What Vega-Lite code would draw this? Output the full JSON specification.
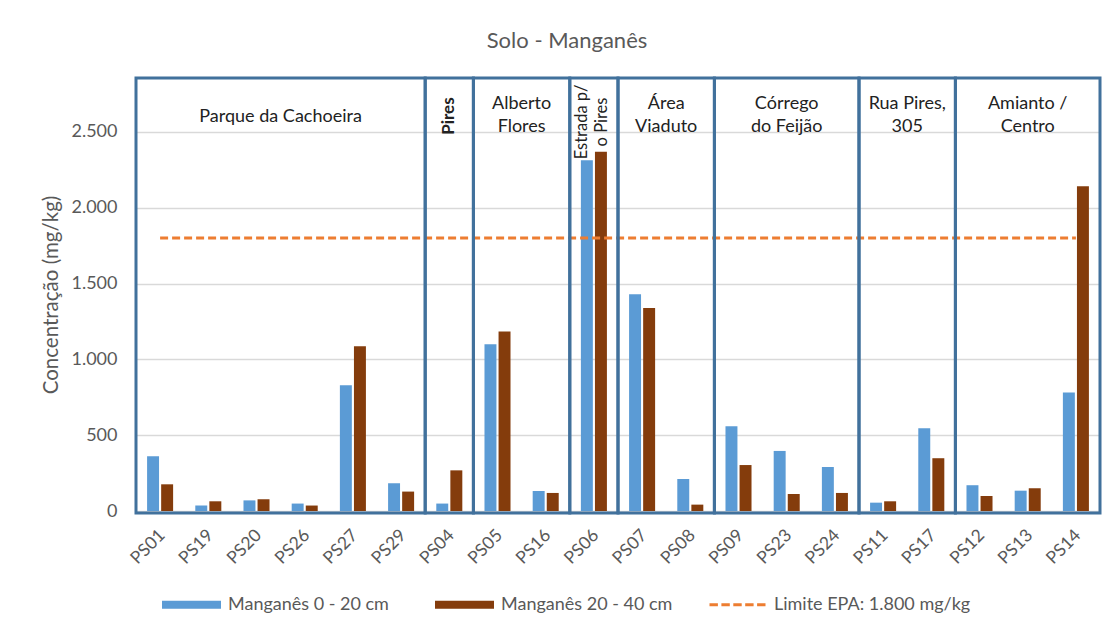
{
  "$schema": "https://vega.github.io/schema/vega-lite/v6.json",
  "width": 964,
  "height": 433,
  "autosize": {"type": "none"},
  "padding": {"left": 136, "top": 78, "right": 9, "bottom": 116},
  "background": "white",
  "config": {
    "font": "Lato",
    "view": {"stroke": null}
  },
  "title": {
    "text": "Solo - Manganês",
    "fontSize": 22,
    "fontWeight": "normal",
    "color": "#595959",
    "offset": 24,
    "dx": -51,
    "anchor": "middle"
  },
  "datasets": {
    "bars": [
      {"amostra": "PS01", "profundidade": "Manganês 0 - 20 cm", "valor": 361},
      {"amostra": "PS01", "profundidade": "Manganês 20 - 40 cm", "valor": 176},
      {"amostra": "PS19", "profundidade": "Manganês 0 - 20 cm", "valor": 36},
      {"amostra": "PS19", "profundidade": "Manganês 20 - 40 cm", "valor": 64},
      {"amostra": "PS20", "profundidade": "Manganês 0 - 20 cm", "valor": 70},
      {"amostra": "PS20", "profundidade": "Manganês 20 - 40 cm", "valor": 77},
      {"amostra": "PS26", "profundidade": "Manganês 0 - 20 cm", "valor": 49},
      {"amostra": "PS26", "profundidade": "Manganês 20 - 40 cm", "valor": 36},
      {"amostra": "PS27", "profundidade": "Manganês 0 - 20 cm", "valor": 829},
      {"amostra": "PS27", "profundidade": "Manganês 20 - 40 cm", "valor": 1086},
      {"amostra": "PS29", "profundidade": "Manganês 0 - 20 cm", "valor": 183},
      {"amostra": "PS29", "profundidade": "Manganês 20 - 40 cm", "valor": 128},
      {"amostra": "PS04", "profundidade": "Manganês 0 - 20 cm", "valor": 49},
      {"amostra": "PS04", "profundidade": "Manganês 20 - 40 cm", "valor": 268},
      {"amostra": "PS05", "profundidade": "Manganês 0 - 20 cm", "valor": 1100},
      {"amostra": "PS05", "profundidade": "Manganês 20 - 40 cm", "valor": 1183},
      {"amostra": "PS16", "profundidade": "Manganês 0 - 20 cm", "valor": 132},
      {"amostra": "PS16", "profundidade": "Manganês 20 - 40 cm", "valor": 119},
      {"amostra": "PS06", "profundidade": "Manganês 0 - 20 cm", "valor": 2313},
      {"amostra": "PS06", "profundidade": "Manganês 20 - 40 cm", "valor": 2368},
      {"amostra": "PS07", "profundidade": "Manganês 0 - 20 cm", "valor": 1429},
      {"amostra": "PS07", "profundidade": "Manganês 20 - 40 cm", "valor": 1339},
      {"amostra": "PS08", "profundidade": "Manganês 0 - 20 cm", "valor": 211},
      {"amostra": "PS08", "profundidade": "Manganês 20 - 40 cm", "valor": 42},
      {"amostra": "PS09", "profundidade": "Manganês 0 - 20 cm", "valor": 559},
      {"amostra": "PS09", "profundidade": "Manganês 20 - 40 cm", "valor": 303},
      {"amostra": "PS23", "profundidade": "Manganês 0 - 20 cm", "valor": 396},
      {"amostra": "PS23", "profundidade": "Manganês 20 - 40 cm", "valor": 112},
      {"amostra": "PS24", "profundidade": "Manganês 0 - 20 cm", "valor": 290},
      {"amostra": "PS24", "profundidade": "Manganês 20 - 40 cm", "valor": 119},
      {"amostra": "PS11", "profundidade": "Manganês 0 - 20 cm", "valor": 55},
      {"amostra": "PS11", "profundidade": "Manganês 20 - 40 cm", "valor": 64},
      {"amostra": "PS17", "profundidade": "Manganês 0 - 20 cm", "valor": 545},
      {"amostra": "PS17", "profundidade": "Manganês 20 - 40 cm", "valor": 348},
      {"amostra": "PS12", "profundidade": "Manganês 0 - 20 cm", "valor": 170},
      {"amostra": "PS12", "profundidade": "Manganês 20 - 40 cm", "valor": 99},
      {"amostra": "PS13", "profundidade": "Manganês 0 - 20 cm", "valor": 134},
      {"amostra": "PS13", "profundidade": "Manganês 20 - 40 cm", "valor": 150},
      {"amostra": "PS14", "profundidade": "Manganês 0 - 20 cm", "valor": 781},
      {"amostra": "PS14", "profundidade": "Manganês 20 - 40 cm", "valor": 2142}
    ],
    "limite": [
      {"amostra": "PS01", "valor": 1800}, {"amostra": "PS19", "valor": 1800},
      {"amostra": "PS20", "valor": 1800}, {"amostra": "PS26", "valor": 1800},
      {"amostra": "PS27", "valor": 1800}, {"amostra": "PS29", "valor": 1800},
      {"amostra": "PS04", "valor": 1800}, {"amostra": "PS05", "valor": 1800},
      {"amostra": "PS16", "valor": 1800}, {"amostra": "PS06", "valor": 1800},
      {"amostra": "PS07", "valor": 1800}, {"amostra": "PS08", "valor": 1800},
      {"amostra": "PS09", "valor": 1800}, {"amostra": "PS23", "valor": 1800},
      {"amostra": "PS24", "valor": 1800}, {"amostra": "PS11", "valor": 1800},
      {"amostra": "PS17", "valor": 1800}, {"amostra": "PS12", "valor": 1800},
      {"amostra": "PS13", "valor": 1800}, {"amostra": "PS14", "valor": 1800}
    ],
    "grupos": [
      {"grupo": "Parque da Cachoeira", "rotulo": "Parque da Cachoeira", "inicio": 0, "fim": 6, "centro": 3},
      {"grupo": "Pires", "rotulo": "Pires", "inicio": 6, "fim": 7, "centro": 6.5},
      {"grupo": "Alberto Flores", "rotulo": "Alberto\nFlores", "inicio": 7, "fim": 9, "centro": 8},
      {"grupo": "Estrada p/ o Pires", "rotulo": "Estrada p/\no Pires", "inicio": 9, "fim": 10, "centro": 9.5},
      {"grupo": "Área Viaduto", "rotulo": "Área\nViaduto", "inicio": 10, "fim": 12, "centro": 11},
      {"grupo": "Córrego do Feijão", "rotulo": "Córrego\ndo Feijão", "inicio": 12, "fim": 15, "centro": 13.5},
      {"grupo": "Rua Pires, 305", "rotulo": "Rua Pires,\n305", "inicio": 15, "fim": 17, "centro": 16},
      {"grupo": "Amianto / Centro", "rotulo": "Amianto /\nCentro", "inicio": 17, "fim": 20, "centro": 18.5}
    ]
  },
  "layer": [
    {
      "layer": [
        {
          "data": {"name": "bars"},
          "mark": {"type": "bar"},
          "encoding": {
            "x": {
              "field": "amostra",
              "type": "nominal",
              "scale": {
                "domain": ["PS01","PS19","PS20","PS26","PS27","PS29","PS04","PS05","PS16","PS06","PS07","PS08","PS09","PS23","PS24","PS11","PS17","PS12","PS13","PS14"],
                "paddingInner": 0.46,
                "paddingOuter": 0.23
              },
              "axis": {
                "title": null,
                "labelAngle": -45,
                "ticks": false,
                "domain": false,
                "labelFontSize": 17.5,
                "labelColor": "#595959",
                "labelPadding": 15,
                "labelOffset": -4
              }
            },
            "xOffset": {
              "field": "profundidade",
              "type": "nominal",
              "scale": {"domain": ["Manganês 0 - 20 cm", "Manganês 20 - 40 cm"], "paddingInner": 0.15}
            },
            "y": {
              "field": "valor",
              "type": "quantitative",
              "scale": {"domain": [0, 2855], "nice": false},
              "axis": {
                "title": "Concentração (mg/kg)",
                "values": [0, 500, 1000, 1500, 2000, 2500],
                "labelExpr": "replace(format(datum.value, ','), ',', '.')",
                "grid": true,
                "gridColor": "#d9d9d9",
                "gridWidth": 1.5,
                "domain": false,
                "ticks": false,
                "labelPadding": 19,
                "labelFontSize": 18,
                "labelColor": "#595959",
                "titleFontSize": 20.5,
                "titleColor": "#595959",
                "titleFontWeight": "normal",
                "titlePadding": 9
              }
            },
            "color": {
              "field": "profundidade",
              "type": "nominal",
              "scale": {
                "domain": ["Manganês 0 - 20 cm", "Manganês 20 - 40 cm", "Limite EPA: 1.800 mg/kg"],
                "range": ["#5B9BD5", "#843C0C", "#ED7D31"]
              },
              "legend": {
                "orient": "none",
                "legendX": 26,
                "legendY": 497,
                "direction": "horizontal",
                "columns": 3,
                "title": null,
                "padding": 0,
                "symbolSize": 3136,
                "symbolStrokeWidth": 3,
                "labelFontSize": 18,
                "labelColor": "#595959",
                "labelOffset": 7,
                "labelLimit": 400,
                "gridAlign": "all",
                "columnPadding": 5,
                "encode": {
                  "symbols": {
                    "update": {
                      "shape": {"signal": "datum.value === 'Limite EPA: 1.800 mg/kg' ? 'M-1,0H-0.7M-0.575,0H-0.275M-0.15,0H0.15M0.275,0H0.575M0.7,0H1' : 'M-1,-0.09H1V0.09H-1Z'"},
                      "fill": {"signal": "datum.value === 'Limite EPA: 1.800 mg/kg' ? 'transparent' : (datum.value === 'Manganês 0 - 20 cm' ? '#5B9BD5' : '#843C0C')"},
                      "stroke": {"signal": "datum.value === 'Limite EPA: 1.800 mg/kg' ? '#ED7D31' : 'transparent'"},
                      "strokeWidth": {"value": 3},
                      "opacity": {"value": 1}
                    }
                  }
                }
              }
            }
          }
        },
        {
          "data": {"name": "limite"},
          "mark": {"type": "line", "strokeDash": [8, 4], "strokeWidth": 3},
          "encoding": {
            "x": {"field": "amostra", "type": "nominal"},
            "y": {"field": "valor", "type": "quantitative", "scale": {"domain": [0, 2855], "nice": false}},
            "color": {"datum": "Limite EPA: 1.800 mg/kg"}
          }
        }
      ]
    },
    {
      "layer": [
        {
          "data": {"name": "grupos"},
          "mark": {"type": "rect", "filled": false, "stroke": "#41719C", "strokeWidth": 3},
          "encoding": {
            "x": {"field": "inicio", "type": "quantitative", "scale": {"domain": [0, 20], "nice": false, "zero": false}, "axis": null},
            "x2": {"field": "fim"},
            "y": {"datum": -14},
            "y2": {"datum": 2855}
          }
        },
        {
          "data": {"name": "grupos"},
          "transform": [{"filter": "datum.grupo === 'Parque da Cachoeira'"}],
          "mark": {"type": "text", "fontSize": 18, "color": "#222222", "baseline": "middle", "align": "center"},
          "encoding": {
            "x": {"field": "centro", "type": "quantitative", "scale": {"domain": [0, 20], "nice": false, "zero": false}, "axis": null},
            "y": {"datum": 2600},
            "text": {"field": "rotulo", "type": "nominal"}
          }
        },
        {
          "data": {"name": "grupos"},
          "transform": [{"filter": "datum.grupo !== 'Pires' && datum.grupo !== 'Estrada p/ o Pires' && datum.grupo !== 'Parque da Cachoeira'"}],
          "mark": {"type": "text", "lineBreak": "\n", "fontSize": 18, "color": "#222222", "lineHeight": 23, "baseline": "middle", "align": "center", "dy": -11},
          "encoding": {
            "x": {"field": "centro", "type": "quantitative", "scale": {"domain": [0, 20], "nice": false, "zero": false}, "axis": null},
            "y": {"datum": 2610},
            "text": {"field": "rotulo", "type": "nominal"}
          }
        },
        {
          "data": {"name": "grupos"},
          "transform": [{"filter": "datum.grupo === 'Estrada p/ o Pires'"}],
          "mark": {"type": "text", "lineBreak": "\n", "fontSize": 16.5, "color": "#222222", "lineHeight": 20, "baseline": "middle", "align": "center", "angle": 270, "dy": -12},
          "encoding": {
            "x": {"field": "centro", "type": "quantitative", "scale": {"domain": [0, 20], "nice": false, "zero": false}, "axis": null},
            "y": {"datum": 2565},
            "text": {"field": "rotulo", "type": "nominal"}
          }
        },
        {
          "data": {"name": "grupos"},
          "transform": [{"filter": "datum.grupo === 'Pires'"}],
          "mark": {"type": "text", "fontSize": 17, "fontWeight": "bold", "color": "#222222", "baseline": "middle", "align": "center", "angle": 270},
          "encoding": {
            "x": {"field": "centro", "type": "quantitative", "scale": {"domain": [0, 20], "nice": false, "zero": false}, "axis": null},
            "y": {"datum": 2604},
            "text": {"field": "rotulo", "type": "nominal"}
          }
        }
      ]
    }
  ],
  "resolve": {"scale": {"x": "independent"}, "axis": {"x": "independent"}}
}
